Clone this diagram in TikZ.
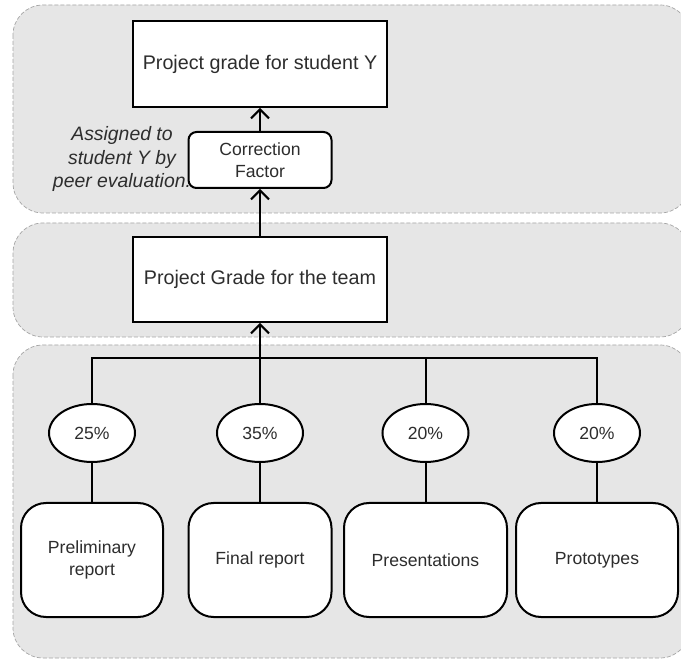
\documentclass[tikz,border=0pt]{standalone}
\usepackage{fontspec}
\setmainfont{Liberation Sans}
\usetikzlibrary{arrows.meta,positioning,shapes.geometric}
\definecolor{panelGray}{RGB}{230,230,230}
\definecolor{dashGray} {RGB}{165,165,165}
\definecolor{textGray} {RGB}{ 45, 45, 45}
\newcommand{\bigtxt}{\fontsize{19.7}{23}\selectfont}
\newcommand{\smalltxt}{\fontsize{17.6}{21.5}\selectfont}

\begin{document}
\begin{tikzpicture}[x=1pt,y=-1pt,
        panel/.style={draw=dashGray, line width=0.7pt,
                      dash pattern=on 4pt off 2pt,
                      fill=panelGray, rounded corners=30pt},
        gradebox/.style={draw, line width=2pt, fill=white,
                         text=textGray, font=\bigtxt,
                         minimum width=254pt, minimum height=86pt},
        factorbox/.style={draw, line width=2pt, fill=white,
                          rounded corners=8pt, align=center,
                          text=textGray, font=\smalltxt,
                          minimum width=143pt, minimum height=56pt},
        weight/.style={draw, ellipse, line width=2pt, fill=white,
                       text=textGray, font=\smalltxt, inner sep=0pt,
                       minimum width=86pt, minimum height=58pt},
        part/.style={draw, line width=2pt, fill=white,
                     rounded corners=25pt, align=center,
                     text=textGray, font=\smalltxt,
                     minimum height=114pt},
        link/.style={line width=2pt},
        arr/.style={link, -{Straight Barb[length=9pt,width=18pt]}}]
        \useasboundingbox (0,0) rectangle (681,660);
        \clip (0,0) rectangle (681,660);
        % three layers
        \fill[white] (0,0) rectangle (681,660);
        \draw[panel] (13,5)   rectangle (690,213);
        \draw[panel] (13,223) rectangle (690,337);
        \draw[panel] (13,345) rectangle (690,658);
        % grades
        \node[gradebox] (student) at (260,64) {Project grade for student Y};
        \node[factorbox] (corr) at (260,160) {Correction\\Factor};
        \node[gradebox, minimum height=85pt] (team) at (260,279.5)
          {Project Grade for the team};
        \node[align=center, inner sep=0pt, text=textGray,
              font=\fontsize{19.4}{23.5}\selectfont\itshape]
          (note) at (122,159) {Assigned to\\student Y by\\peer evaluation.};
        % weights and parts
        \node[weight] (w1) at (92,433)    {25\%};
        \node[weight] (w2) at (260,433)   {35\%};
        \node[weight] (w3) at (425.5,433) {20\%};
        \node[weight] (w4) at (597,433)   {20\%};
        \node[part, minimum width=142pt] (prelim) at (92,560)
          {Preliminary\\report};
        \node[part, minimum width=143pt] (final) at (260,560)
          {Final report};
        \node[part, minimum width=163pt] (pres) at (425.5,560)
          {Presentations};
        \node[part, minimum width=162pt] (proto) at (597,560)
          {Prototypes};
        \coordinate (bus) at (260,358);
        % connectors
        \draw[link] (w1.north) |- (bus) -| (w4.north);
        \draw[link] (w2.north) -- (w2.north |- bus);
        \draw[link] (w3.north) -- (w3.north |- bus);
        \draw[link] (w1.south) -- (prelim.north);
        \draw[link] (w2.south) -- (final.north);
        \draw[link] (w3.south) -- (pres.north);
        \draw[link] (w4.south) -- (proto.north);
        \draw[arr] (bus) -- (team.south);
        \draw[arr] (team) -- (corr);
        \draw[arr] (corr) -- (student);
      \end{tikzpicture}
\end{document}
